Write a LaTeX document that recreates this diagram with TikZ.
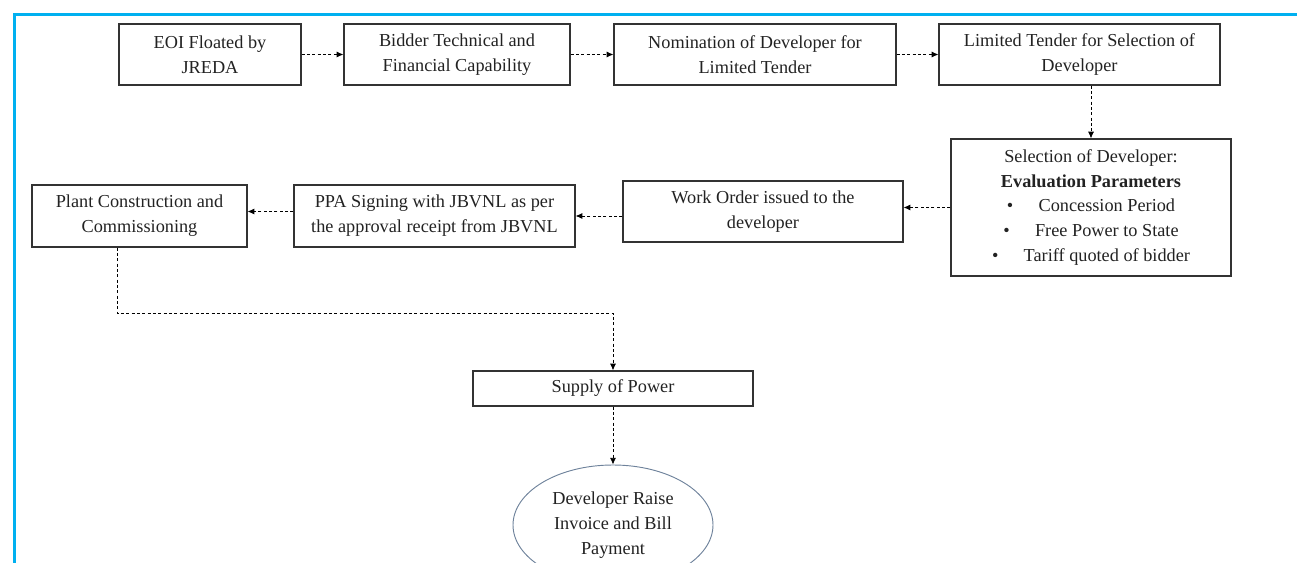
\documentclass[tikz,border=0pt]{standalone}
\usepackage{fontspec}
\setmainfont{LiberationSerif}[Extension=.ttf,UprightFont=*-Regular,BoldFont=*-Bold,ItalicFont=*-Italic,BoldItalicFont=*-BoldItalic]
\usetikzlibrary{arrows.meta,shapes.geometric}
\definecolor{frameblue}{HTML}{00B0F0}
\definecolor{boxline}{HTML}{333333}
\definecolor{txt}{HTML}{222222}
\definecolor{ellline}{RGB}{110,130,155}
\begin{document}
\begin{tikzpicture}[x=0.75pt,y=-0.75pt,
  font=\fontsize{13.7pt}{18.6pt}\selectfont,
  stepbox/.style={draw=boxline,line width=0.9pt,rectangle,inner sep=0pt,align=center,text=txt},
  flow/.style={draw=black,line width=0.6pt,dash pattern=on 2.4pt off 1.6pt,-{Latex[length=5pt,width=4.5pt]}},
  frame/.style={draw=frameblue,line width=2.5pt}]
\useasboundingbox (0,0) rectangle (1297,563);
% frame
\draw[frame] (13,14.8) -- (1297,14.8);
\draw[frame] (14.5,13.5) -- (14.5,563);
% top row
\node[stepbox,minimum width=136.5pt,minimum height=45.75pt] (eoi) at (210,54.5) {EOI Floated by\\JREDA};
\node[stepbox,minimum width=169.5pt,minimum height=45.75pt] (bid) at (457,54.5) {Bidder Technical and\\Financial Capability};
\node[stepbox,minimum width=211.5pt,minimum height=45.75pt] (nom) at (755,54.5) {Nomination of Developer for\\Limited Tender};
\node[stepbox,minimum width=210.75pt,minimum height=45.75pt] (lim) at (1079.5,54.5) {Limited Tender for Selection of\\Developer};
% selection
\node[stepbox,minimum width=210pt,minimum height=102.75pt] (sel) at (1091,207.5)
 {Selection of Developer:\\\textbf{Evaluation Parameters}\\
  \textbullet\hspace{19pt}Concession Period\\
  \textbullet\hspace{19pt}Free Power to State\\
  \textbullet\hspace{19pt}Tariff quoted of bidder};
% middle row
\node[stepbox,minimum width=210pt,minimum height=45.75pt] (wo) at (763,211.5) {Work Order issued to the\\developer};
\node[stepbox,minimum width=210.75pt,minimum height=46.5pt] (ppa) at (434.5,216) {PPA Signing with JBVNL as per\\the approval receipt from JBVNL};
\node[stepbox,minimum width=161.25pt,minimum height=46.5pt] (plant) at (139.5,216) {Plant Construction and\\Commissioning};
% bottom
\node[stepbox,minimum width=210pt,minimum height=26.25pt] (sup) at (613,388.5) {Supply of Power};
\node[draw=ellline,line width=0.7pt,ellipse,minimum width=150pt,minimum height=90pt,inner sep=0pt,align=center,text=txt] (pay) at (613,525) {Developer Raise\\Invoice and Bill\\Payment};
% connectors
\draw[flow] (eoi) -- (bid);
\draw[flow] (bid) -- (nom);
\draw[flow] (nom) -- (lim);
\draw[flow] (lim.south -| sel.north) -- (sel.north);
\draw[flow] (sel.west) -- (sel.west -| wo.east);
\draw[flow] (wo.west |- ppa.east) -- (ppa.east);
\draw[flow] (ppa.west |- wo.west) -- (plant.east |- wo.west);
\coordinate (k) at (613,313);
\draw[flow] ([xshift=-16.9pt]plant.south) |- (k) -- (sup.north);
\draw[flow] (sup.south) -- (pay.north);
\end{tikzpicture}
\end{document}
